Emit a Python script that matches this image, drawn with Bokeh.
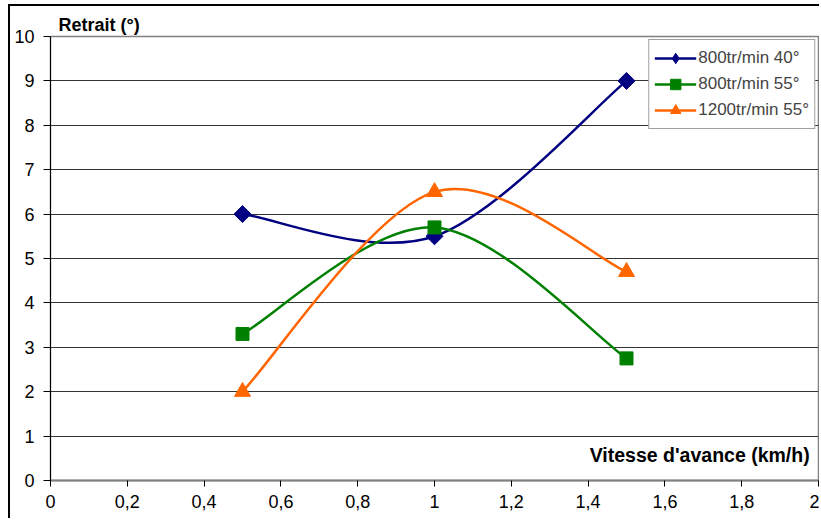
import math
from bokeh.plotting import figure
from bokeh.models import (Range1d, FixedTicker, CustomJSTickFormatter, Legend, LegendItem, Label)
from bokeh.embed import file_html
from bokeh.resources import INLINE

# ---- data ----
vitesse = [0.5, 1.0, 1.5]
s800_40 = [6.0, 5.5, 9.0]
s800_55 = [3.3, 5.7, 2.75]
s1200_55 = [2.0, 6.5, 4.7]
names = ["800tr/min 40°", "800tr/min 55°", "1200tr/min 55°"]
colors = ["#000080", "#008000", "#FF6600"]
markers = ["square", "square", "triangle"]
legend_markers = ["diamond", "square", "triangle"]
marker_angles = [math.pi / 4, 0.0, 0.0]
marker_sizes = [12, 13, 16]
x_ticks = [0, 0.2, 0.4, 0.6, 0.8, 1, 1.2, 1.4, 1.6, 1.8, 2]
y_ticks = list(range(0, 11))

FONT = "Liberation Sans"


def smooth(xs, ys, f=1.0 / 6.0):
    """Excel-like smoothed line: cubic Bezier control points (Catmull-Rom)."""
    n = len(xs)
    out = {k: [] for k in ("x0", "y0", "x1", "y1", "cx0", "cy0", "cx1", "cy1")}
    for i in range(n - 1):
        i0, i3 = max(i - 1, 0), min(i + 2, n - 1)
        out["x0"].append(xs[i]); out["y0"].append(ys[i])
        out["x1"].append(xs[i + 1]); out["y1"].append(ys[i + 1])
        out["cx0"].append(xs[i] + (xs[i + 1] - xs[i0]) * f)
        out["cy0"].append(ys[i] + (ys[i + 1] - ys[i0]) * f)
        out["cx1"].append(xs[i + 1] - (xs[i3] - xs[i]) * f)
        out["cy1"].append(ys[i + 1] - (ys[i3] - ys[i]) * f)
    return out


p = figure(width=811, height=514, output_backend="svg", toolbar_location=None,
           x_range=Range1d(0, 2), y_range=Range1d(0, 10),
           title="Retrait (°)",
           min_border_left=40, min_border_right=3, min_border_top=30, min_border_bottom=40,
           background_fill_color="white", border_fill_color="white",
           styles={"border-top": "2px solid black", "border-left": "2px solid black",
                   "margin-left": "8px", "margin-top": "4px"})

p.title.text_font = FONT
p.title.text_font_size = "18px"
p.title.text_font_style = "bold"
p.title.text_color = "black"
p.title.align = "left"
p.title.offset = 8
p.title.standoff = 4

p.outline_line_color = "#808080"
p.outline_line_width = 1.5
p.xgrid.visible = False
p.ygrid.ticker = FixedTicker(ticks=y_ticks)
p.ygrid.grid_line_color = "#333333"
p.ygrid.grid_line_width = 1

# axes
p.xaxis.ticker = FixedTicker(ticks=x_ticks)
p.xaxis.formatter = CustomJSTickFormatter(code="return tick.toString().replace('.', ',');")
p.yaxis.ticker = FixedTicker(ticks=y_ticks)
for ax in (p.xaxis[0], p.yaxis[0]):
    ax.major_label_text_font = FONT
    ax.major_label_text_font_size = "18px"
    ax.major_label_text_color = "black"
    ax.minor_tick_line_color = None
    ax.major_tick_line_color = "black"
p.xaxis.axis_line_color = "#808080"
p.xaxis.axis_line_width = 2
p.xaxis.major_tick_out = 6
p.xaxis.major_tick_in = 0
p.xaxis.major_label_standoff = 8
p.yaxis.axis_line_color = "black"
p.yaxis.major_tick_out = 7
p.yaxis.major_tick_in = 0
p.yaxis.major_label_standoff = 9

items = []
for ys, name, col, mk, lmk, ang, sz in zip([s800_40, s800_55, s1200_55], names, colors,
                                            markers, legend_markers, marker_angles, marker_sizes):
    seg = smooth(vitesse, ys)
    bz = p.bezier(source=seg, x0="x0", y0="y0", x1="x1", y1="y1",
                  cx0="cx0", cy0="cy0", cx1="cx1", cy1="cy1",
                  line_color=col, line_width=2.5)
    # legend-shaped marker (drawn underneath the visible marker)
    lg = p.scatter(vitesse, ys, marker=lmk, size=min(sz, 12),
                   fill_color=col, line_color=col)
    sc = p.scatter(vitesse, ys, marker=mk, size=sz, angle=ang,
                   fill_color=col, line_color=col)
    items.append(LegendItem(label=name, renderers=[bz, lg]))

legend = Legend(items=items, location="top_right", margin=3, padding=5, spacing=0,
                glyph_width=42, glyph_height=26, label_height=26,
                label_text_font=FONT, label_text_font_size="17px",
                border_line_color="#404040", border_line_width=1.5,
                background_fill_color="white", background_fill_alpha=1,
                label_standoff=2)
p.add_layout(legend, "center")

p.add_layout(Label(x=1.977, y=0.32, text="Vitesse d'avance (km/h)", text_font=FONT,
                   text_font_size="19.5px", text_font_style="bold", text_color="black",
                   text_align="right"))

open("out.html", "w").write(file_html(p, INLINE))
